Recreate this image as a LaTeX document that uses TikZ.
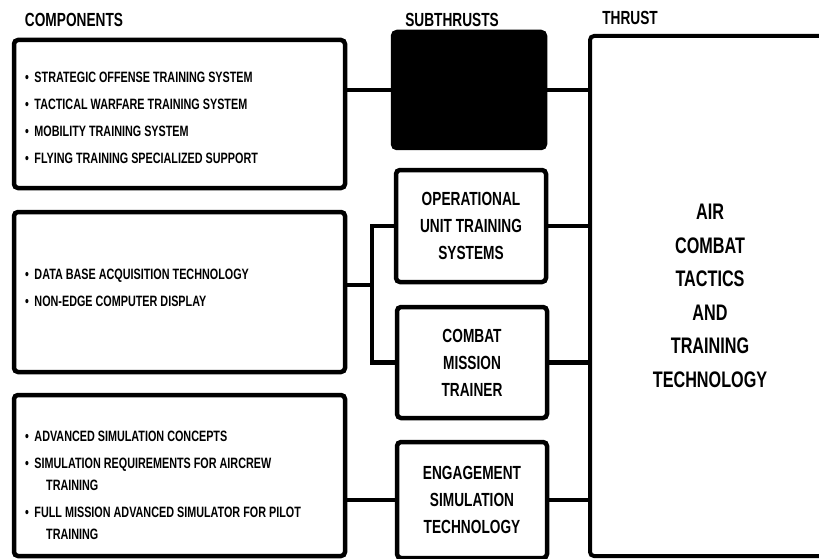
\documentclass[tikz,border=0pt]{standalone}
\usepackage{fontspec}
\setmainfont{Liberation Sans}[FakeStretch=0.72]
\usepackage{tikz}
\usetikzlibrary{positioning}
\tikzset{box/.style={draw,line width=4.5pt,rounded corners=4pt,inner sep=0pt},
         comp/.style={box,minimum width=331pt},
         sub/.style={box,minimum width=150pt,font=\bfseries\fontsize{19}{27}\selectfont,align=center},
         items/.style={font=\bfseries\fontsize{15}{27}\selectfont,align=left,inner sep=0pt},
         hdr/.style={font=\bfseries\fontsize{19}{18}\selectfont,inner sep=0pt},
         wire/.style={line width=4.5pt}}

\begin{document}
\begin{tikzpicture}[x=1pt,y=-1pt]
    \useasboundingbox (0,0) rectangle (819,559);
    \clip (0,0) rectangle (819,559);

    \node[hdr] (hc)at (74,20) {COMPONENTS};
    \node[hdr] (hs)at (452,20) {SUBTHRUSTS};
    \node[hdr] (ht)at (630,18) {THRUST};

    \node[comp,minimum height=148pt] (c1)at (179.5,114) {};
    \node[comp,minimum height=160pt] (c2)at (179.5,292) {};
    \node[comp,minimum height=161pt] (c3)at (179.5,475.5) {};

    \node[items,anchor=west] (l1)at (25,117.5) {•\, STRATEGIC OFFENSE TRAINING SYSTEM\\
        •\, TACTICAL WARFARE TRAINING SYSTEM\\
        •\, MOBILITY TRAINING SYSTEM\\
        •\, FLYING TRAINING SPECIALIZED SUPPORT};
    \node[items,anchor=west] (l2)at (25,288) {•\, DATA BASE ACQUISITION TECHNOLOGY\\
        •\, NON-EDGE COMPUTER DISPLAY};
    \node[items,anchor=west] (l3)at (25,485.5) {•\, ADVANCED SIMULATION CONCEPTS\\
        •\, SIMULATION REQUIREMENTS FOR AIRCREW\\[-5pt]
        \hspace*{21pt}TRAINING\\
        •\, FULL MISSION ADVANCED SIMULATOR FOR PILOT\\[-5pt]
        \hspace*{21pt}TRAINING};

    \node[box,fill=black,minimum width=152pt,minimum height=116pt] (s1)at (469,90) {};
    \node[sub,minimum height=112pt] (s2)at (471,226) {OPERATIONAL\\UNIT TRAINING\\SYSTEMS};
    \node[sub,minimum height=111pt] (s3)at (472,362.5) {COMBAT\\MISSION\\TRAINER};
    \node[sub,minimum height=116pt] (s4)at (472,500) {ENGAGEMENT\\SIMULATION\\TECHNOLOGY};

    \node[box,line width=4pt,minimum width=240pt,minimum height=520pt,align=center,
          font=\bfseries\fontsize{22.5}{33.5}\selectfont] (t)at (710,296)
          {AIR\\COMBAT\\TACTICS\\AND\\TRAINING\\TECHNOLOGY};

    \coordinate (br)at (372,285);

    \draw [wire] (s1.west) -- (s1.west -| c1.east);
    \draw [wire] (c2.east |- br) -- (br);
    \draw [wire] (s2.west) -| (br) |- (s3.west);
    \draw [wire] (s4.west) -- (s4.west -| c3.east);
    \draw [wire] (s1.east) -- (s1.east -| t.west);
    \draw [wire] (s2.east) -- (s2.east -| t.west);
    \draw [wire] (s3.east) -- (s3.east -| t.west);
    \draw [wire] (s4.east) -- (s4.east -| t.west);
\end{tikzpicture}
\end{document}
